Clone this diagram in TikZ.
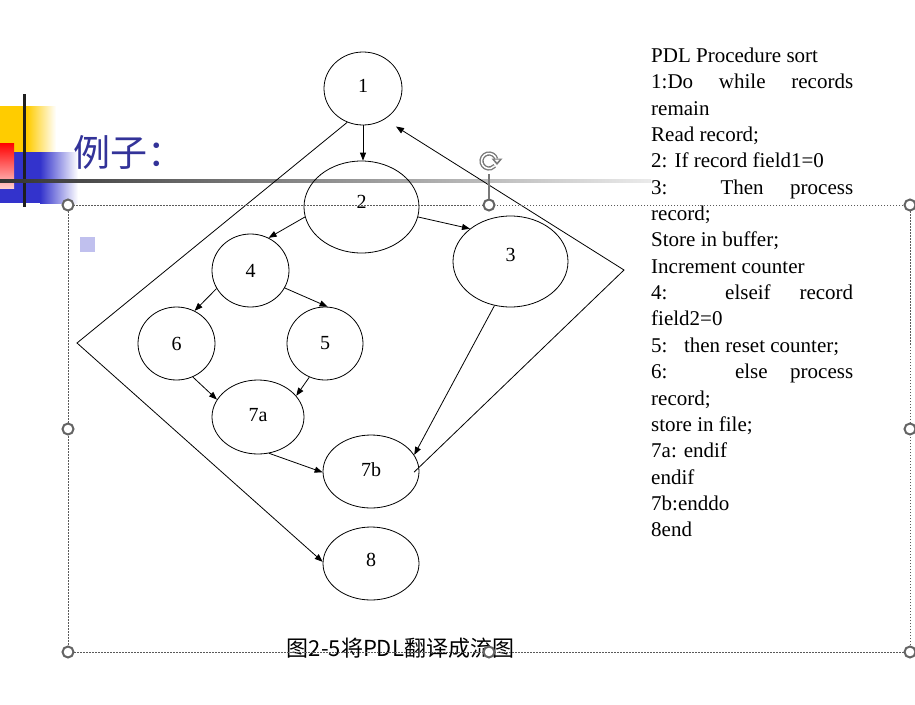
\documentclass[tikz,border=0pt]{standalone}
\usepackage{fontspec}
\setmainfont{Liberation Serif}
\newfontfamily\cjk{Noto Sans CJK SC}
\usetikzlibrary{shapes.geometric,arrows.meta}
\definecolor{titleblue}{RGB}{51,51,153}
\definecolor{bulletc}{RGB}{192,192,238}
\definecolor{tplyellow}{RGB}{255,204,0}
\definecolor{tplblue}{RGB}{51,51,204}
\definecolor{tplred}{RGB}{255,0,0}
\definecolor{tplpink}{RGB}{255,205,205}
\definecolor{selgray}{RGB}{90,90,90}
\definecolor{handlegray}{RGB}{100,100,100}
\definecolor{rotgray}{RGB}{120,120,120}
\tikzset{
  state/.style={ellipse, draw, line width=0.8pt, inner sep=0pt, font=\fontsize{20}{20}\selectfont},
  arr/.style={-{Triangle[length=8pt,width=6pt]}, line width=0.8pt},
  pdl/.style={anchor=base west, inner sep=0pt, font=\fontsize{21}{26}\selectfont},
  handle/.style={circle, draw=handlegray, line width=2pt, fill=white, minimum size=11pt, inner sep=0pt},
  selbox/.style={draw=selgray, line width=0.8pt, dash pattern=on 1.5pt off 1.5pt},
}
\begin{document}
\begin{tikzpicture}[x=1pt,y=-1pt]
\useasboundingbox[fill=white] (0,0) rectangle (915,704);
% template decoration
\fill[tplyellow] (0,106) rectangle (27,152);
\shade[left color=tplyellow, right color=white] (27,106) rectangle (56,152);
\fill[tplblue] (0,152) rectangle (40,203);
\shade[left color=tplblue, right color=white] (40,152) rectangle (78,203);
\shade[top color=tplred, bottom color=tplpink] (0,143) rectangle (14,188);
\fill[black!88] (23,94) rectangle (26,207);
\shade[left color=black!80, right color=black!8] (0,179.5) rectangle (651,182.5);
\node[anchor=base west, inner sep=0pt, text=titleblue, font=\cjk\fontsize{37}{37}\selectfont] (title) at (73,166) {例子：};
\fill[bulletc] (80,237) rectangle (95,252);
% graph
\node[state, minimum width=78pt, minimum height=73pt, text depth=6pt] (n1) at (363,88.5) {1};
\node[state, minimum width=115pt, minimum height=92pt, text depth=10pt] (n2) at (361.5,207) {2};
\node[state, minimum width=115pt, minimum height=91pt, text depth=13pt] (n3) at (510.5,261.5) {3};
\node[state, minimum width=77pt, minimum height=73pt] (n4) at (250.5,270.5) {4};
\node[state, minimum width=77pt, minimum height=73pt] (n6) at (176.5,343.5) {6};
\node[state, minimum width=76pt, minimum height=73pt] (n5) at (325,343.5) {5};
\node[state, minimum width=92pt, minimum height=74pt, text depth=4pt] (n7a) at (258,417) {7a};
\node[state, minimum width=96pt, minimum height=73pt, text depth=3pt] (n7b) at (371,471.5) {7b};
\node[state, minimum width=96pt, minimum height=73pt, text depth=7pt] (n8) at (371,563.5) {8};
\coordinate (cr) at (624,270);
\coordinate (cl) at (77,343);
\draw[arr] (n1.south) -- (n1.south |- n2.north);
\draw[arr] (n2.190.6) -- (n4.61.3);
\draw[arr] (n2.350) -- (n3.141.4);
\draw[arr] (n4.208.2) -- (n6.61.9);
\draw[arr] (n4.333.7) -- (n5.86.9);
\draw[arr] (n6.296.9) -- (n7a.157.3);
\draw[arr] (n5.245) -- (n7a.29.4);
\draw[arr] (n7a.287) -- (n7b.181.9);
\draw[arr] (n3.250) -- (n7b.21.5);
\draw[arr, shorten <=-7pt, shorten >=13.4pt] (n7b.5) -- (cr) -- (n1.305.5);
\draw[arr] (n1.245.6) -- (cl) -- (n8.178);
% PDL text
\node[pdl] (p0) at (651,62.3) {PDL Procedure sort};
\node[pdl] (p1) at (651,88.7) {\makebox[202pt][s]{1:Do while records}};
\node[pdl] (p2) at (651,115.0) {remain};
\node[pdl] (p3) at (651,141.4) {Read record;};
\node[pdl] (p4) at (651,167.7) {2: If record field1=0};
\node[pdl] (p5) at (651,194.1) {\makebox[202pt][l]{3:\hspace{\stretch{2}}Then\hspace{\stretch{1}}process}};
\node[pdl] (p6) at (651,220.5) {record;};
\node[pdl] (p7) at (651,246.8) {Store in buffer;};
\node[pdl] (p8) at (651,273.2) {Increment counter};
\node[pdl] (p9) at (651,299.5) {\makebox[202pt][l]{4:\hspace{\stretch{2}}elseif\hspace{\stretch{1}}record}};
\node[pdl] (p10) at (651,325.9) {field2=0};
\node[pdl] (p11) at (651,352.3) {5:\hspace{16.5pt}then reset counter;};
\node[pdl] (p12) at (651,378.6) {\makebox[202pt][l]{6:\hspace{\stretch{3}}else\hspace{\stretch{1}}process}};
\node[pdl] (p13) at (651,405.0) {record;};
\node[pdl] (p14) at (651,431.3) {store in file;};
\node[pdl] (p15) at (651,457.7) {7a: endif};
\node[pdl] (p16) at (651,484.1) {endif};
\node[pdl] (p17) at (651,510.4) {7b:enddo};
\node[pdl] (p18) at (651,536.8) {8end};
% caption
\node[anchor=base, inner sep=0pt, font=\cjk\fontsize{22}{22}\selectfont] (cap) at (400.5,656) {图2-5将PDL翻译成流图};
% selection frame
\draw[selbox] (68,205) rectangle (910,652);
\coordinate (rc) at (489,161);
\node[handle] (h1) at (68,205) {};
\node[handle] (h2) at (489,205) {};
\node[handle] (h3) at (910,205) {};
\node[handle] (h4) at (68,429) {};
\node[handle] (h5) at (910,429) {};
\node[handle] (h6) at (68,652) {};
\node[handle] (h7) at (489,652) {};
\node[handle] (h8) at (910,652) {};
\draw[rotgray, line width=1.2pt] (h2.north) -- (489,174);
\begin{scope}[shift={(rc)}, yscale=-1]
  \draw[rotgray, line width=4.2pt] (15:7.5) arc[start angle=15, end angle=320, radius=7.5];
  \draw[white, line width=1.5pt] (15:7.5) arc[start angle=15, end angle=320, radius=7.5];
  \fill[rotgray] (2.5,2.5) -- (13.5,2.5) -- (8,-4) -- cycle;
  \fill[white] (5.5,1.5) -- (10.5,1.5) -- (8,-1.3) -- cycle;
\end{scope}
\end{tikzpicture}
\end{document}
